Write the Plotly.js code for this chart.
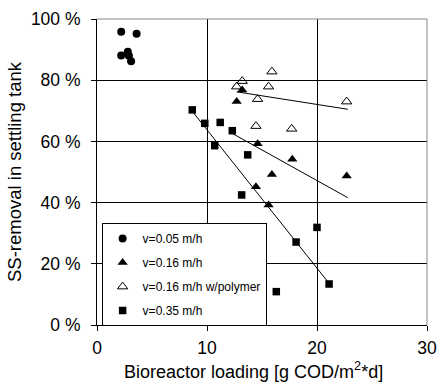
<!DOCTYPE html>
<html>
<head>
<meta charset="utf-8">
<script src="https://cdn.plot.ly/plotly-3.0.1.min.js"></script>
<style>html,body{margin:0;padding:0;background:#fff;}#chart{width:438px;height:383px;}</style>
</head>
<body>
<div id="chart"></div>
<script>
// Data
const v005_x = [2.2, 3.6, 2.2, 2.8, 2.9, 3.1];
const v005_y = [95.8, 95.2, 88.1, 89.3, 88.0, 86.2];

const v016_x = [13.2, 12.7, 14.6, 17.75, 15.9, 14.45, 15.6, 22.7];
const v016_y = [76.8, 73.0, 59.2, 54.2, 49.2, 45.2, 39.2, 48.7];

const v016p_x = [15.9, 13.2, 12.7, 15.6, 14.6, 22.7, 14.45, 17.7];
const v016p_y = [82.8, 79.7, 77.9, 77.9, 73.8, 73.0, 65.0, 64.1];

const v035_x = [8.66, 9.8, 11.2, 12.3, 10.7, 13.7, 13.15, 20.0, 18.1, 21.1, 16.3];
const v035_y = [70.3, 65.9, 66.2, 63.5, 58.6, 55.6, 42.5, 31.9, 27.1, 13.4, 10.9];

// Trend lines (start/end)
const trendP_x = [12.7, 22.8];  const trendP_y = [76.2, 70.5];
const trend16_x = [12.3, 22.8]; const trend16_y = [62.6, 41.6];
const trend35_x = [8.45, 21.1]; const trend35_y = [70.8, 13.6];

const names = ['v=0.05 m/h', 'v=0.16 m/h', 'v=0.16 m/h w/polymer', 'v=0.35 m/h'];
const xTicks = [0, 10, 20, 30];
const yTicks = [0, 20, 40, 60, 80, 100];
const yTickText = ['0 %', '20 %', '40 %', '60 %', '80 %', '100 %'];
const xTitle = 'Bioreactor loading [g COD/m<sup>2</sup>*d]';
const yTitle = 'SS-removal in settling tank';

const lineStyle = {color: '#000', width: 1};
const traces = [
  {x: trendP_x, y: trendP_y, mode: 'lines', line: lineStyle, showlegend: false, hoverinfo: 'skip'},
  {x: trend16_x, y: trend16_y, mode: 'lines', line: lineStyle, showlegend: false, hoverinfo: 'skip'},
  {x: trend35_x, y: trend35_y, mode: 'lines', line: lineStyle, showlegend: false, hoverinfo: 'skip'},
  {x: v005_x, y: v005_y, name: names[0], mode: 'markers', legendgroup: 'a',
   marker: {symbol: 'circle', size: 8, color: '#000'}},
  {x: v016_x, y: v016_y, name: names[1], mode: 'markers', legendgroup: 'b',
   marker: {symbol: 'triangle-up', size: 9, color: '#000'}},
  {x: v016p_x, y: v016p_y, name: names[2], mode: 'markers', legendgroup: 'c',
   marker: {symbol: 'triangle-up-open', size: 9, color: '#000', line: {width: 1, color: '#000'}}},
  {x: v035_x, y: v035_y, name: names[3], mode: 'markers', legendgroup: 'd',
   marker: {symbol: 'square', size: 7.5, color: '#000'}}
];

const font = {family: '"Liberation Sans", Arial, sans-serif', color: '#000'};
const layout = {
  width: 438, height: 383,
  margin: {l: 97, r: 11, t: 19, b: 58},
  paper_bgcolor: '#fff', plot_bgcolor: '#fff',
  font: Object.assign({size: 16}, font),
  showlegend: true,
  xaxis: {
    range: [0, 30], tickvals: xTicks, ticktext: xTicks.map(String),
    showgrid: true, gridcolor: '#000', gridwidth: 1,
    showline: true, linecolor: '#000', linewidth: 1,
    ticks: 'outside', ticklen: 5, tickcolor: '#000',
    zeroline: false, tickfont: {size: 17.5}, ticklabelstandoff: 2
  },
  yaxis: {
    range: [0, 100], tickvals: yTicks, ticktext: yTickText,
    showgrid: true, gridcolor: '#000', gridwidth: 1,
    showline: true, linecolor: '#000', linewidth: 1,
    ticks: 'outside', ticklen: 5, tickcolor: '#000',
    zeroline: false, tickfont: {size: 17.5}, ticklabelstandoff: 7,
    title: {text: yTitle, font: {size: 18.5}, standoff: 4}
  },
  annotations: [
    {text: xTitle, xref: 'paper', yref: 'paper', x: 0.474, y: -0.15,
     xanchor: 'center', yanchor: 'middle', showarrow: false, font: {size: 18}}
  ],
  legend: {
    x: 0.014, y: 0.333, xanchor: 'left', yanchor: 'top',
    bgcolor: '#fff', bordercolor: '#000', borderwidth: 1,
    font: {size: 12}, itemwidth: 30, traceorder: 'grouped', tracegroupgap: 5
  },
  shapes: [
    {type: 'line', xref: 'paper', yref: 'paper', x0: 0, x1: 1, y0: 1, y1: 1, line: {color: '#888', width: 1}, layer: 'above'},
    {type: 'line', xref: 'paper', yref: 'paper', x0: 1, x1: 1, y0: 0, y1: 1, line: {color: '#888', width: 1}, layer: 'above'}
  ]
};

Plotly.newPlot('chart', traces, layout, {displayModeBar: false, staticPlot: true});
</script>
</body>
</html>
